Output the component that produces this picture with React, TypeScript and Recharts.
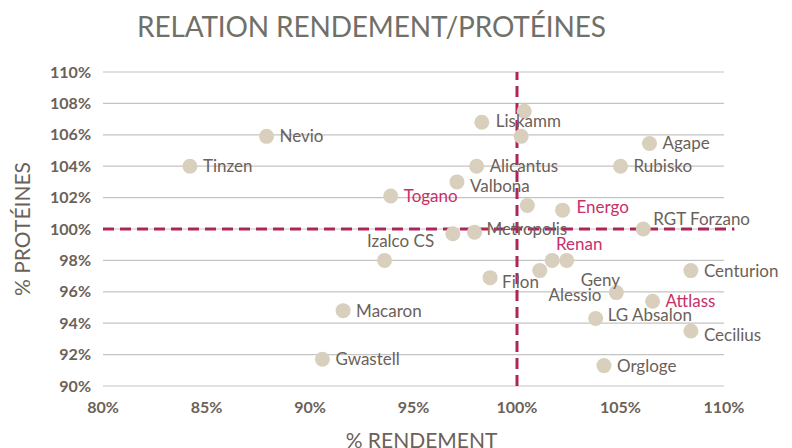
import {
  ScatterChart,
  Scatter,
  XAxis,
  YAxis,
  CartesianGrid,
  ReferenceLine,
  LabelList,
} from "recharts";

// variety names ("" = point shown without a label)
const names = [
  "Nevio", "Tinzen", "Togano", "Izalco CS", "Macaron", "Gwastell",
  "Liskamm", "", "", "Alicantus", "Valbona", "", "Energo", "Metropolis",
  "", "RGT Forzano", "Renan", "Geny", "", "Filon", "Alessio",
  "Centurion", "Attlass", "LG Absalon", "Cecilius", "Agape", "Rubisko", "Orgloge",
];
// % rendement
const rendement = [
  87.9, 84.2, 93.9, 93.6, 91.6, 90.6,
  98.3, 100.35, 100.2, 98.05, 97.1, 100.5, 102.2, 97.95,
  96.9, 106.1, 101.7, 102.4, 101.1, 98.7, 104.8,
  108.4, 106.55, 103.8, 108.4, 106.4, 105.0, 104.2,
];
// % protéines
const proteines = [
  105.9, 104.0, 102.1, 98.0, 94.8, 91.7,
  106.8, 107.5, 105.9, 104.0, 103.0, 101.5, 101.2, 99.8,
  99.7, 100.0, 98.0, 98.0, 97.35, 96.9, 95.95,
  97.35, 95.4, 94.3, 93.5, 105.45, 104.0, 91.3,
];
const highlighted = ["Togano", "Energo", "Renan", "Attlass"];

const xTicks = [80, 85, 90, 95, 100, 105, 110];
const yTicks = [90, 92, 94, 96, 98, 100, 102, 104, 106, 108, 110];

const points = names.map((name, i) => ({ name, x: rendement[i], y: proteines[i] }));

// label placement tweaks: [dx, dy, anchor]
const placement: Record<string, [number, number, string]> = {
  "Izalco CS": [16, -13, "middle"],
  Renan: [27, -10, "middle"],
  Geny: [14, 26, "start"],
  Alessio: [-15, 8, "end"],
  Valbona: [13, 10, "start"],
  Metropolis: [12, 3, "start"],
  Energo: [14, 3, "start"],
  "RGT Forzano": [10, -4, "start"],
  Filon: [12, 10, "start"],
  "LG Absalon": [12, 3, "start"],
  Cecilius: [13, 10, "start"],
  Liskamm: [14, 5, "start"],
};

const GRAY = "#6b6158";
const PINK = "#c8306a";
const DASH = "#b0245a";
const DOT = "#d9cfbd";
const FONT = "Lato, sans-serif";

const Dot = (props: any) => <circle cx={props.cx} cy={props.cy} r={7.5} fill={DOT} />;

const PointLabel = (props: any) => {
  const { x, y, width, height, value } = props;
  if (!value) return null;
  const cx = x + width / 2;
  const cy = y + height / 2;
  const [dx, dy, anchor] = placement[value] ?? [13, 6, "start"];
  return (
    <text
      x={cx + dx}
      y={cy + dy}
      textAnchor={anchor as any}
      fill={highlighted.includes(value) ? PINK : GRAY}
      fontSize={17}
      fontFamily={FONT}
    >
      {value}
    </text>
  );
};

export default function App() {
  return (
    <div style={{ position: "absolute", left: 0, top: 0, width: 792, height: 448, background: "#fff" }}>
      <div
        style={{
          position: "absolute",
          left: 137,
          top: 9,
          fontFamily: FONT,
          fontSize: 28,
          color: "#707069",
          letterSpacing: -0.15,
          whiteSpace: "nowrap",
        }}
      >
        RELATION RENDEMENT/PROTÉINES
      </div>
      <ScatterChart width={792} height={448} margin={{ top: 72, right: 68, bottom: 22, left: 0 }}>
        <CartesianGrid vertical={false} stroke="#c4c4c4" strokeWidth={1.2} />
        <XAxis
          type="number"
          dataKey="x"
          domain={[80, 110]}
          ticks={xTicks}
          tickFormatter={(v) => `${v}%`}
          axisLine={false}
          tickLine={false}
          allowDataOverflow
          height={40}
          tick={{ fill: GRAY, fontSize: 16, fontWeight: 700, fontFamily: FONT, dy: 8 }}
          label={{ value: "% RENDEMENT", position: "insideBottom", dy: 27, dx: 8, fill: GRAY, fontSize: 21, fontFamily: FONT }}
        />
        <YAxis
          type="number"
          dataKey="y"
          domain={[90, 110]}
          ticks={yTicks}
          tickFormatter={(v) => `${v}%`}
          axisLine={false}
          tickLine={false}
          width={103}
          tick={{ fill: GRAY, fontSize: 16, fontWeight: 700, fontFamily: FONT, dx: -4 }}
          label={{ value: "% PROTÉINES", angle: -90, position: "insideLeft", dx: 18, fill: GRAY, fontSize: 21, fontFamily: FONT, style: { textAnchor: "middle" } }}
        />
        <ReferenceLine
          segment={[{ x: 80, y: 100 }, { x: 110.5, y: 100 }]}
          ifOverflow="visible"
          stroke={DASH}
          strokeWidth={3}
          strokeDasharray="11 6"
        />
        <ReferenceLine x={100} stroke={DASH} strokeWidth={3} strokeDasharray="11 6" />
        <Scatter data={points} fill={DOT} shape={<Dot />} isAnimationActive={false}>
          <LabelList dataKey="name" content={<PointLabel />} />
        </Scatter>
      </ScatterChart>
    </div>
  );
}
